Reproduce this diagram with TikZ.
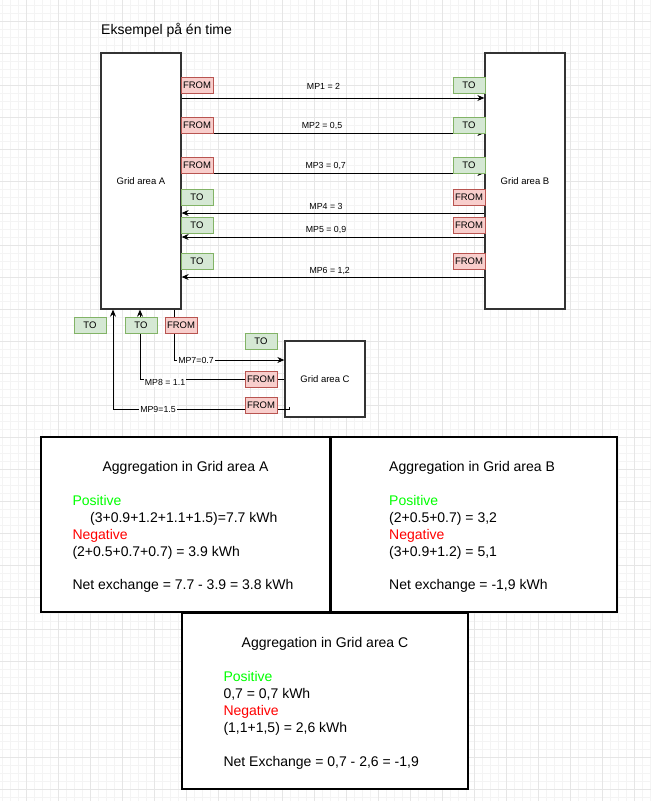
\documentclass[tikz,border=0pt]{standalone}
\usepackage{fontspec}
\setmainfont{Liberation Sans}
\usetikzlibrary{arrows.meta}
\definecolor{frfill}{HTML}{F8CECC}
\definecolor{frdraw}{HTML}{B85450}
\definecolor{tofill}{HTML}{D5E8D4}
\definecolor{todraw}{HTML}{82B366}
\definecolor{gminor}{HTML}{F4F4F4}
\definecolor{gmajor}{HTML}{E6E6E6}
\definecolor{posc}{HTML}{00FF00}
\definecolor{negc}{HTML}{FF0000}
\definecolor{boxc}{HTML}{333333}
\begin{document}
\begin{tikzpicture}[x=1pt,y=-1pt,
  area/.style={draw=boxc,line width=1.3,fill=white,minimum width=80,inner sep=0,font=\fontsize{9.5}{11}\selectfont},
  tag/.style={line width=1,minimum width=32,minimum height=16,inner sep=0,font=\fontsize{9.5}{11}\selectfont},
  fromtag/.style={tag,fill=frfill,draw=frdraw},
  totag/.style={tag,fill=tofill,draw=todraw},
  conn/.style={draw=black,line width=1,-{Stealth[length=7,width=6]}},
  mplab/.style={anchor=base,inner sep=1,font=\fontsize{8.8}{10}\selectfont},
  mpbg/.style={mplab,fill=white},
  aggbox/.style={draw=black,line width=2,fill=white,inner sep=0},
  aggtxt/.style={anchor=base west,inner sep=0,font=\fontsize{14}{17}\selectfont},
  aggtitle/.style={anchor=base,inner sep=0,font=\fontsize{14}{17}\selectfont}
]
\fill[white] (0,0) rectangle (651,801);
\useasboundingbox (0,0) rectangle (651,801);
% background grid
\foreach \x in {2,10,...,650} \draw[gminor,line width=1] (\x,0) -- (\x,801);
\foreach \y in {5,13,...,797} \draw[gminor,line width=1] (0,\y) -- (651,\y);
\foreach \x in {26,58,...,634} \draw[gmajor,line width=1] (\x,0) -- (\x,801);
\foreach \y in {21,53,...,789} \draw[gmajor,line width=1] (0,\y) -- (651,\y);

% title
\node[anchor=base west,inner sep=0,font=\fontsize{14}{17}\selectfont] (title) at (101,34) {Eksempel på én time};

% grid area boxes
\node[area,minimum height=256] (A) at (141,181) {Grid area A};
\node[area,minimum height=256] (B) at (525,181) {Grid area B};
\node[area,minimum height=76] (C) at (325,379) {Grid area C};

% connectors A <-> B
\draw[conn] (A.east |- 0,98) -- (B.west |- 0,98);
\draw[conn] (A.east |- 0,133) -- (B.west |- 0,133);
\draw[conn] (A.east |- 0,173) -- (B.west |- 0,173);
\draw[conn] (B.west |- 0,213) -- (A.east |- 0,213);
\draw[conn] (B.west |- 0,237) -- (A.east |- 0,237);
\draw[conn] (B.west |- 0,277) -- (A.east |- 0,277);

% connectors with C
\draw[conn] (A.south -| 174,0) |- (C.west |- 0,360);
\draw[conn] (C.west |- 0,379) -| (A.south -| 140,0);
\coordinate (m9s) at ([xshift=5]C.west |- 0,407);
\draw[conn] (m9s) -- ++(0,2) -| (A.south -| 113,0);

% tags
\node[fromtag] (f1) at (197,85) {FROM};
\node[totag]   (t1) at (469,85) {TO};
\node[fromtag] (f2) at (197,125) {FROM};
\node[totag]   (t2) at (469,125) {TO};
\node[fromtag] (f3) at (197,165) {FROM};
\node[totag]   (t3) at (469,165) {TO};
\node[totag]   (t4) at (197,197) {TO};
\node[fromtag] (f4) at (469,197) {FROM};
\node[totag]   (t5) at (197,225) {TO};
\node[fromtag] (f5) at (469,225) {FROM};
\node[totag]   (t6) at (197,261) {TO};
\node[fromtag] (f6) at (469,261) {FROM};
\node[totag]   (t9) at (90,325) {TO};
\node[totag]   (t8) at (141,325) {TO};
\node[fromtag] (f7) at (181,325) {FROM};
\node[totag]   (t7) at (261,341) {TO};
\node[fromtag] (f8) at (261,379) {FROM};
\node[fromtag] (f9) at (261,405) {FROM};

% connector labels
\node[mplab] (l1) at (323.5,89.5) {MP1 = 2};
\node[mplab] (l2) at (322,128.5) {MP2 = 0,5};
\node[mplab] (l3) at (325.7,168.5) {MP3 = 0,7};
\node[mplab] (l4) at (326,209) {MP4 = 3};
\node[mplab] (l5) at (326,232.5) {MP5 = 0,9};
\node[mplab] (l6) at (329.7,273) {MP6 = 1,2};
\node[mpbg] (l7) at (196,363.5) {MP7=0.7};
\node[mpbg] (l8) at (165,385.5) {MP8 = 1.1};
\node[mpbg] (l9) at (158,412.5) {MP9=1.5};

% aggregation boxes
\node[aggbox,minimum width=289,minimum height=175] (aggA) at (185.5,524.5) {};
\node[aggbox,minimum width=286,minimum height=175] (aggB) at (474,524.5) {};
\node[aggbox,minimum width=286,minimum height=176] (aggC) at (325,701) {};

\node[aggtitle] (aAt) at (185.5,471.7) {Aggregation in Grid area A};
\node[aggtxt,text=posc] (aA1) at (72.3,505) {Positive};
\node[aggtxt] (aA2) at (90,522) {(3+0.9+1.2+1.1+1.5)=7.7 kWh};
\node[aggtxt,text=negc] (aA3) at (72.3,539) {Negative};
\node[aggtxt] (aA4) at (72.3,556) {(2+0.5+0.7+0.7) = 3.9 kWh};
\node[aggtxt] (aA5) at (72.3,589) {Net exchange = 7.7 - 3.9 = 3.8 kWh};

\node[aggtxt] (aBt) at (389,471.7) {Aggregation in Grid area B};
\node[aggtxt,text=posc] (aB1) at (389,505) {Positive};
\node[aggtxt] (aB2) at (389,522) {(2+0.5+0.7) = 3,2};
\node[aggtxt,text=negc] (aB3) at (389,539) {Negative};
\node[aggtxt] (aB4) at (389,556) {(3+0.9+1.2) = 5,1};
\node[aggtxt] (aB5) at (389,589) {Net exchange = -1,9 kWh};

\node[aggtitle] (aCt) at (325,647) {Aggregation in Grid area C};
\node[aggtxt,text=posc] (aC1) at (223.3,681) {Positive};
\node[aggtxt] (aC2) at (223.3,698) {0,7 = 0,7 kWh};
\node[aggtxt,text=negc] (aC3) at (223.3,715) {Negative};
\node[aggtxt] (aC4) at (223.3,732) {(1,1+1,5) = 2,6 kWh};
\node[aggtxt] (aC5) at (223.3,766) {Net Exchange = 0,7 - 2,6 = -1,9};
\end{tikzpicture}
\end{document}
